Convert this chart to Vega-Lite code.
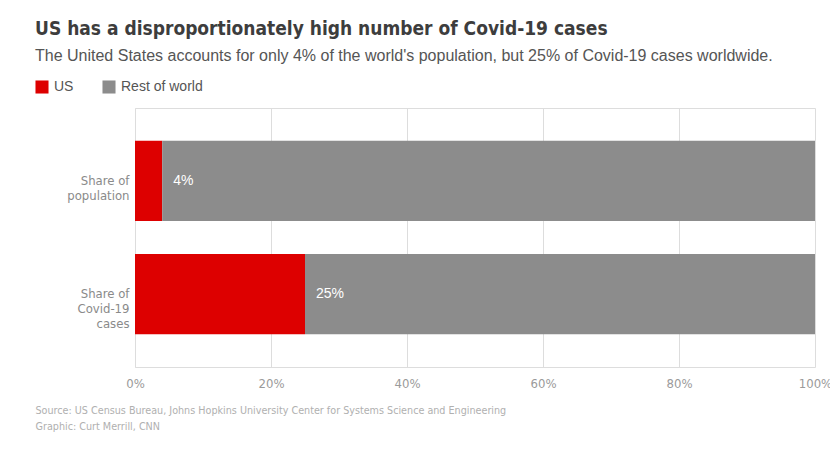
{
  "$schema": "https://vega.github.io/schema/vega-lite/v6.json",
  "width": 680,
  "height": 259,
  "autosize": {"type": "none"},
  "padding": {"left": 135, "top": 108, "right": 15, "bottom": 87},
  "background": "white",
  "title": {
    "text": "US has a disproportionately high number of Covid-19 cases",
    "subtitle": "The United States accounts for only 4% of the world's population, but 25% of Covid-19 cases worldwide.",
    "anchor": "start",
    "frame": "group",
    "dx": -100,
    "offset": 16,
    "font": "DejaVu Sans Condensed",
    "fontSize": 19,
    "fontWeight": "bold",
    "color": "#3d3d3d",
    "subtitleFont": "Liberation Sans",
    "subtitleFontSize": 16,
    "subtitleColor": "#555555",
    "subtitlePadding": 9
  },
  "data": {
    "values": [
      {"measure": "Share of population", "region": "US", "share": 0.04},
      {"measure": "Share of population", "region": "Rest of world", "share": 0.96},
      {"measure": "Share of Covid-19 cases", "region": "US", "share": 0.25},
      {"measure": "Share of Covid-19 cases", "region": "Rest of world", "share": 0.75}
    ]
  },
  "encoding": {
    "y": {
      "field": "measure",
      "type": "nominal",
      "sort": ["Share of population", "Share of Covid-19 cases"],
      "scale": {"paddingInner": 0.29, "paddingOuter": 0.29},
      "axis": {
        "title": null,
        "domain": false,
        "ticks": false,
        "labelPadding": 6,
        "labelFont": "DejaVu Sans Condensed",
        "labelFontSize": 13,
        "labelColor": "#8a8a8a",
        "labelLineHeight": 15,
        "labelExpr": "datum.value == 'Share of population' ? ['Share of', 'population'] : ['Share of', 'Covid-19', 'cases']"
      }
    }
  },
  "layer": [
    {
      "mark": {"type": "bar"},
      "encoding": {
        "x": {
          "field": "share",
          "type": "quantitative",
          "stack": "zero",
          "scale": {"domain": [0, 1], "nice": false},
          "axis": {
            "values": [0, 0.2, 0.4, 0.6, 0.8, 1],
            "format": ".0%",
            "grid": true,
            "gridColor": "#dddddd",
            "gridOpacity": {"condition": {"test": "datum.value >= 1", "value": 0}, "value": 1},
            "domain": false,
            "ticks": false,
            "labelPadding": 10,
            "labelFont": "DejaVu Sans Condensed",
            "labelFontSize": 13,
            "labelColor": "#9a9a9a",
            "labelFlush": false,
            "title": ["Source: US Census Bureau, Johns Hopkins University Center for Systems Science and Engineering", "Graphic: Curt Merrill, CNN"],
            "titleX": -100,
            "titleY": 38,
            "titleAlign": "left",
            "titleAnchor": "start",
            "titleBaseline": "top",
            "titleFont": "DejaVu Sans Condensed",
            "titleFontSize": 10.7,
            "titleFontWeight": "normal",
            "titleColor": "#b0b0b0",
            "titleLineHeight": 16
          }
        },
        "color": {
          "field": "region",
          "type": "nominal",
          "scale": {"domain": ["US", "Rest of world"], "range": ["#dd0000", "#8c8c8c"]},
          "legend": {
            "title": null,
            "orient": "none",
            "legendX": -100,
            "legendY": -28,
            "direction": "horizontal",
            "symbolType": "square",
            "symbolSize": 170,
            "symbolStrokeWidth": 0,
            "symbolOpacity": 1,
            "labelFont": "Liberation Sans",
            "labelFontSize": 14,
            "labelColor": "#555555",
            "labelOffset": 5,
            "columnPadding": 28
          }
        },
        "order": {"field": "region", "sort": "descending"}
      }
    },
    {
      "transform": [{"filter": "datum.region == 'US'"}],
      "mark": {"type": "text", "align": "left", "baseline": "middle", "dx": 11, "color": "white", "font": "Liberation Sans", "fontSize": 14},
      "encoding": {
        "x": {"field": "share", "type": "quantitative"},
        "text": {"field": "share", "type": "quantitative", "format": ".0%"}
      }
    }
  ]
}
